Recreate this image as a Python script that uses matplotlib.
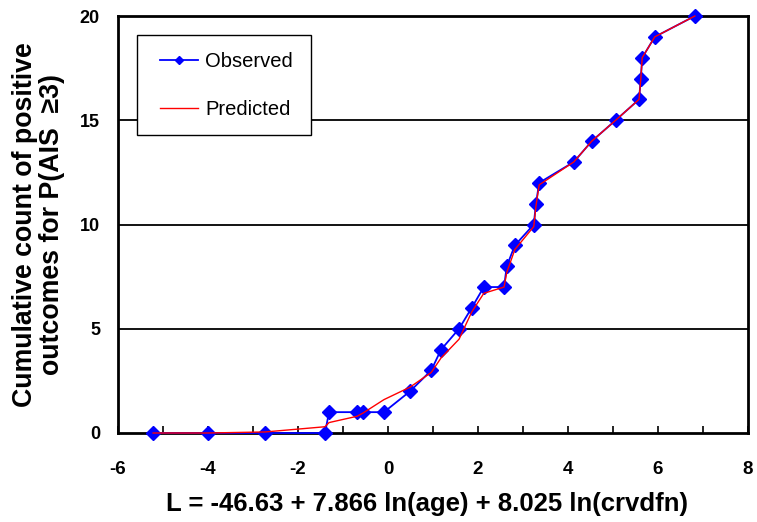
import matplotlib
matplotlib.use("Agg")
import matplotlib.pyplot as plt
from matplotlib.ticker import MultipleLocator
from matplotlib.patches import Rectangle

plt.rcParams['font.family'] = ['Liberation Sans', 'DejaVu Sans']
plt.rcParams['axes.unicode_minus'] = False

L_values = [-5.22, -4.00, -2.73, -1.40, -1.31, -0.69, -0.56, -0.09, 0.49, 0.96,
            1.18, 1.58, 1.86, 2.13, 2.58, 2.64, 2.82, 3.24, 3.29, 3.36,
            4.13, 4.53, 5.06, 5.58, 5.62, 5.65, 5.93, 6.82]
observed = [0, 0, 0, 0, 1, 1, 1, 1, 2, 3,
            4, 5, 6, 7, 7, 8, 9, 10, 11, 12,
            13, 14, 15, 16, 17, 18, 19, 20]
predicted = [0.0, 0.0, 0.05, 0.3, 0.5, 0.8, 0.95, 1.6, 2.2, 2.9,
             3.6, 4.5, 5.8, 6.7, 7.0, 7.7, 8.8, 9.9, 10.9, 11.9,
             13.0, 14.0, 15.0, 16.0, 17.0, 18.0, 19.0, 20.0]

x_ticks = [-6, -4, -2, 0, 2, 4, 6, 8]
y_ticks = [0, 5, 10, 15, 20]

fig = plt.figure(figsize=(7.57, 5.22), dpi=100)
ax = fig.add_axes([0.1559, 0.1705, 0.988 - 0.1559, 0.9693 - 0.1705])

for yv in y_ticks[1:-1]:
    ax.axhline(yv, color='black', lw=1.3, zorder=1)

ax.plot(L_values, observed, color='#0000FF', lw=1.3, marker='D', markersize=6.8,
        markerfacecolor='#0000FF', markeredgecolor='#0000FF', label='Observed',
        zorder=3, clip_on=False)
ax.plot(L_values, predicted, color='#FF0000', lw=1.0, label='Predicted', zorder=4,
        clip_on=False)

ax.set_xlim(-6, 8)
ax.set_ylim(0, 20)
ax.set_xticks(x_ticks)
ax.xaxis.set_minor_locator(MultipleLocator(1))
ax.set_yticks(y_ticks)
ax.tick_params(axis='x', which='both', direction='in', length=5, width=1.2,
               labelsize=13.5, pad=20)
ax.tick_params(axis='y', which='both', length=0, labelsize=13, pad=13)
for lab in ax.get_xticklabels() + ax.get_yticklabels():
    lab.set_fontweight('bold')

for sp in ax.spines.values():
    sp.set_linewidth(2.0)
    sp.set_color('black')

ax.set_xlabel('L = -46.63 + 7.866 ln(age) + 8.025 ln(crvdfn)', fontsize=18.5,
              fontweight='bold')
ax.xaxis.set_label_coords(0.49, -0.142)
ax.set_ylabel('Cumulative count of positive\noutcomes for P(AIS  \u22653)', fontsize=19.3,
              fontweight='bold', labelpad=11, linespacing=1.05)

# legend box
ax.add_patch(Rectangle((0.0302, 0.7146), 0.2761, 0.2398, transform=ax.transAxes,
                       facecolor='white', edgecolor='black', lw=1.0, zorder=5))
leg = ax.legend(loc='upper left', bbox_to_anchor=(0.0667, 0.9137), fontsize=14.5,
                borderaxespad=0, frameon=False, borderpad=0,
                labelspacing=1.45, handlelength=1.9, handletextpad=0.35,
                markerscale=0.6)
leg.set_zorder(6)

fig.savefig('out.png', dpi=100)
